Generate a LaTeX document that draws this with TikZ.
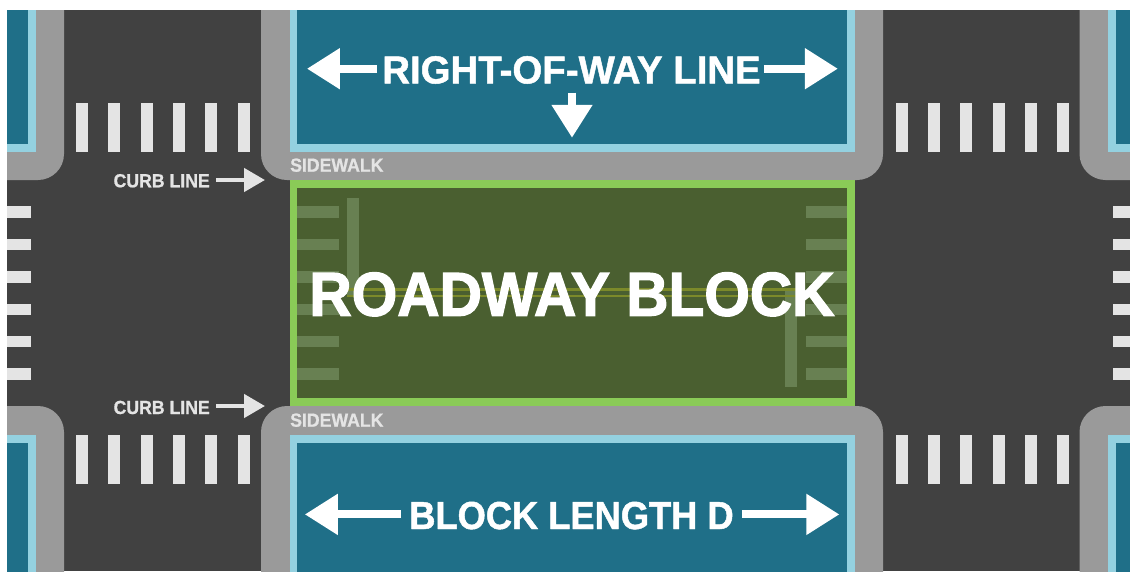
\documentclass[tikz,border=0pt]{standalone}
\usepackage{fontspec}
\setmainfont{Liberation Sans}
\newfontfamily\signfont[FakeStretch=0.93,FakeBold=0.8]{Liberation Sans Bold}
\newfontfamily\rowfont[FakeStretch=0.985,FakeBold=1.2]{Liberation Sans Bold}
\newfontfamily\blockfont[FakeStretch=0.93,FakeBold=1.2]{Liberation Sans Bold}
\newfontfamily\roadfont[FakeStretch=0.945,FakeBold=2]{Liberation Sans Bold}
\usetikzlibrary{arrows.meta, positioning}
\definecolor{rdAsphalt}{HTML}{414141}
\definecolor{rdWalk}{HTML}{9A9A9A}
\definecolor{rdCurb}{HTML}{94D1E0}
\definecolor{rdLot}{HTML}{1F6F88}
\definecolor{rdPaint}{HTML}{E4E4E4}
\definecolor{rdGreen}{HTML}{8ACB57}
\definecolor{rdBlock}{HTML}{4A5F30}
\definecolor{rdFaded}{HTML}{688052}
\definecolor{rdYellow}{HTML}{7C8A2A}
\tikzset{
  walkbox/.style={fill=rdWalk, rounded corners=26pt},
  bigarrow/.style={draw=white, line width=8pt, -{Triangle[length=33pt,width=39pt]}},
  smallarrow/.style={draw=rdPaint, line width=4.5pt, -{Triangle[length=21pt,width=23pt]}},
  biglabel/.style={text=white, inner sep=0pt, anchor=base},
  smalllabel/.style={text=rdPaint, inner sep=0pt, anchor=base, font=\signfont\fontsize{19}{19}\selectfont}
}
\begin{document}
\begin{tikzpicture}[x=1pt,y=-1pt]
  \useasboundingbox (0,0) rectangle (1130,571);
  \fill[white] (0,0) rectangle (1130,571);
  \begin{scope}
    \clip (7,10) rectangle (1130,571);
    % jezdnia
    \fill[rdAsphalt] (7,10) rectangle (1130,571);
    % chodniki i kwartaly
    \foreach \xa/\xb in {-60/64, 261/883, 1079.5/1250}{
      \foreach \ya/\yb in {-60/180, 406/640}{
        \fill[walkbox] (\xa,\ya) rectangle (\xb,\yb);
        \fill[rdCurb] (\xa+28.5,\ya+28.5) rectangle (\xb-28.5,\yb-28.5);
        \fill[rdLot] (\xa+36,\ya+36.5) rectangle (\xb-36,\yb-36.5);
      }
    }
    % pasy pionowe
    \foreach \x in {76,108.3,...,240}{
      \fill[rdPaint] (\x,103) rectangle (\x+12,151.5);
      \fill[rdPaint] (\x,434.5) rectangle (\x+12,484);
    }
    \foreach \x in {895.7,928,...,1060}{
      \fill[rdPaint] (\x,103) rectangle (\x+12,151.5);
      \fill[rdPaint] (\x,434.5) rectangle (\x+12,484);
    }
    % pasy poziome
    \foreach \y in {206.3,238.7,...,370}{
      \fill[rdPaint] (7,\y) rectangle (31,\y+11.5);
      \fill[rdPaint] (1113,\y) rectangle (1130,\y+11.5);
    }
    % blok jezdni
    \fill[rdGreen] (289.5,180) rectangle (855,406);
    \fill[rdBlock] (297,187.7) rectangle (847,398.3);
    \foreach \y in {206.3,238.7,...,370}{
      \fill[rdFaded] (297,\y) rectangle (338.5,\y+11.5);
      \fill[rdFaded] (806,\y) rectangle (847,\y+11.5);
    }
    \fill[rdFaded] (347,197.7) rectangle (358.5,295);
    \fill[rdFaded] (785,289) rectangle (797,386.7);
    \fill[rdYellow] (347,288) rectangle (797,290.5);
    \fill[rdYellow] (347,294.5) rectangle (797,297);
  \end{scope}
  % napisy
  \node[biglabel, font=\roadfont\fontsize{62}{62}\selectfont] (roadway) at (572,315.7) {ROADWAY BLOCK};
  \node[biglabel, font=\rowfont\fontsize{39}{39}\selectfont] (rowline) at (571.5,83.4) {RIGHT-OF-WAY LINE};
  \node[biglabel, font=\blockfont\fontsize{39}{39}\selectfont] (length) at (571.5,529) {BLOCK LENGTH D};
  \node[smalllabel, anchor=base west] (walktop) at (290,171.7) {SIDEWALK};
  \node[smalllabel, anchor=base west] (walkbot) at (290,426.7) {SIDEWALK};
  \node[smalllabel] (curbtop) at (161.7,187.3) {CURB LINE};
  \node[smalllabel] (curbbot) at (161.7,414) {CURB LINE};
  % konce strzalek
  \coordinate (rowleft) at (306.9,68.7);
  \coordinate (rowright) at (837.9,68.7);
  \coordinate (rowdown) at (572,137.8);
  \coordinate (lenleft) at (304.8,514.4);
  \coordinate (lenright) at (839.4,514.4);
  \coordinate (curbtoptip) at (265,180);
  \coordinate (curbbottip) at (265,406);
  % strzalki
  \draw[bigarrow] ([xshift=-5pt]rowline.west |- rowleft) -- (rowleft);
  \draw[bigarrow] ([xshift=3pt]rowline.east |- rowright) -- (rowright);
  \draw[bigarrow] (rowdown |- 0,92.7) -- (rowdown);
  \draw[bigarrow] ([xshift=-8pt]length.west |- lenleft) -- (lenleft);
  \draw[bigarrow] ([xshift=8pt]length.east |- lenright) -- (lenright);
  \draw[smallarrow] ([xshift=6pt]curbtop.east |- curbtoptip) -- (curbtoptip);
  \draw[smallarrow] ([xshift=6pt]curbbot.east |- curbbottip) -- (curbbottip);
\end{tikzpicture}
\end{document}
